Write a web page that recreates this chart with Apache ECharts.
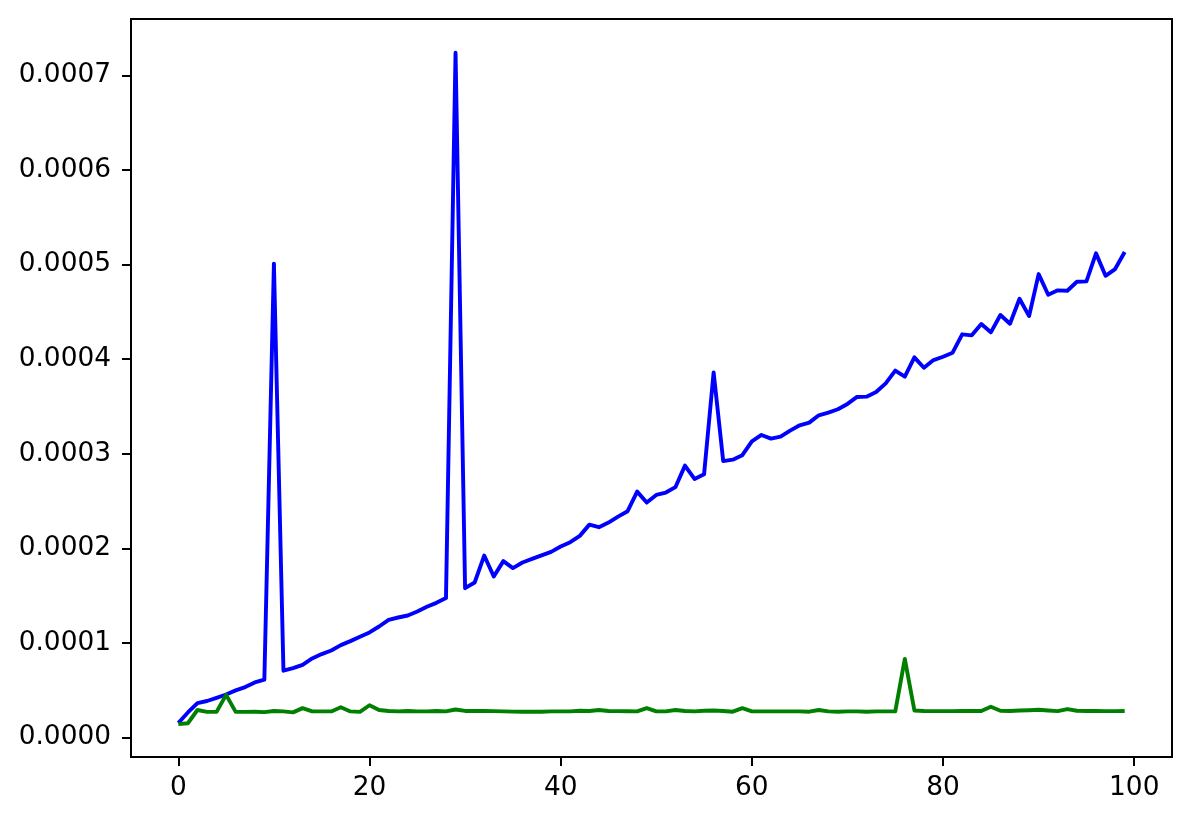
<!DOCTYPE html>
<html>
<head>
<meta charset="utf-8">
<script src="https://cdn.jsdelivr.net/npm/echarts@6/dist/echarts.min.js"></script>
<style>
html,body{margin:0;padding:0;background:#fff;}
#chart{width:1191px;height:822px;}
</style>
</head>
<body>
<div id="chart"></div>
<script>
// values in units of 1e-4
const blueValues = [
  0.152, 0.264, 0.363, 0.385, 0.419, 0.454, 0.497, 0.532, 0.581, 0.610,
  5.01, 0.705, 0.733, 0.768, 0.835, 0.881, 0.919, 0.976, 1.018, 1.064,
  1.110, 1.173, 1.243, 1.268, 1.289, 1.331, 1.381, 1.423, 1.473, 7.24,
  1.578, 1.638, 1.923, 1.701, 1.864, 1.790, 1.849, 1.888, 1.925, 1.962,
  2.018, 2.064, 2.131, 2.250, 2.223, 2.272, 2.335, 2.392, 2.599, 2.483,
  2.564, 2.589, 2.646, 2.874, 2.733, 2.783, 3.86, 2.922, 2.937, 2.984,
  3.131, 3.198, 3.159, 3.180, 3.244, 3.300, 3.328, 3.406, 3.434, 3.470,
  3.526, 3.600, 3.603, 3.652, 3.744, 3.878, 3.814, 4.019, 3.909, 3.990,
  4.025, 4.068, 4.262, 4.251, 4.371, 4.283, 4.466, 4.374, 4.638, 4.455,
  4.899, 4.681, 4.727, 4.723, 4.818, 4.822, 5.118, 4.881, 4.952, 5.132
];
const greenValues = [
  0.14, 0.15, 0.29, 0.27, 0.27, 0.45, 0.27, 0.27, 0.272, 0.268,
  0.28, 0.275, 0.265, 0.31, 0.275, 0.275, 0.275, 0.32, 0.275, 0.27,
  0.34, 0.29, 0.28, 0.275, 0.28, 0.275, 0.275, 0.28, 0.275, 0.295,
  0.28, 0.28, 0.28, 0.278, 0.275, 0.273, 0.272, 0.272, 0.272, 0.275,
  0.275, 0.275, 0.282, 0.28, 0.29, 0.28, 0.278, 0.276, 0.275, 0.31,
  0.275, 0.275, 0.29, 0.28, 0.275, 0.282, 0.285, 0.28, 0.272, 0.31,
  0.275, 0.275, 0.275, 0.275, 0.275, 0.275, 0.272, 0.29, 0.275, 0.272,
  0.275, 0.275, 0.272, 0.275, 0.275, 0.275, 0.83, 0.285, 0.28, 0.278,
  0.278, 0.278, 0.28, 0.28, 0.28, 0.325, 0.282, 0.28, 0.285, 0.288,
  0.292, 0.285, 0.278, 0.30, 0.282, 0.28, 0.28, 0.278, 0.278, 0.28
];
const xTickValues = [0, 20, 40, 60, 80, 100];
const yTickValues = [0, 1, 2, 3, 4, 5, 6, 7]; // units of 1e-4
const SCALE = 1e-4;

const blueData = blueValues.map((v, i) => [i, v * SCALE]);
const greenData = greenValues.map((v, i) => [i, v * SCALE]);
const yTicks = yTickValues.map(v => v * SCALE);

const font = 'DejaVu Sans';
const chart = echarts.init(document.getElementById('chart'), null, {renderer: 'canvas'});
chart.setOption({
  animation: false,
  backgroundColor: '#ffffff',
  grid: {
    left: 131, top: 19, right: 19, bottom: 65,
    show: true, borderColor: '#000', borderWidth: 2, backgroundColor: 'transparent'
  },
  xAxis: {
    type: 'value',
    min: -4.95, max: 103.95,
    splitLine: {show: false},
    axisLine: {show: true, onZero: false, lineStyle: {color: '#000', width: 2}},
    axisTick: {show: true, length: 9, lineStyle: {color: '#000', width: 2}, customValues: xTickValues},
    axisLabel: {
      color: '#000', fontFamily: font, fontSize: 26.4, margin: 18,
      customValues: xTickValues,
      formatter: v => String(Math.round(v))
    }
  },
  yAxis: {
    type: 'value',
    min: -0.0000207, max: 0.0007596,
    splitLine: {show: false},
    axisLine: {show: true, onZero: false, lineStyle: {color: '#000', width: 2}},
    axisTick: {show: true, length: 9, lineStyle: {color: '#000', width: 2}, customValues: yTicks},
    axisLabel: {
      color: '#000', fontFamily: font, fontSize: 26.4, margin: 20,
      customValues: yTicks,
      formatter: v => v.toFixed(4)
    }
  },
  series: [
    {
      type: 'line', data: blueData, showSymbol: false, symbol: 'none',
      lineStyle: {color: '#0000ff', width: 3.9, join: 'round'}, z: 3
    },
    {
      type: 'line', data: greenData, showSymbol: false, symbol: 'none',
      lineStyle: {color: '#008000', width: 3.9, join: 'round'}, z: 4
    }
  ]
});
</script>
</body>
</html>
